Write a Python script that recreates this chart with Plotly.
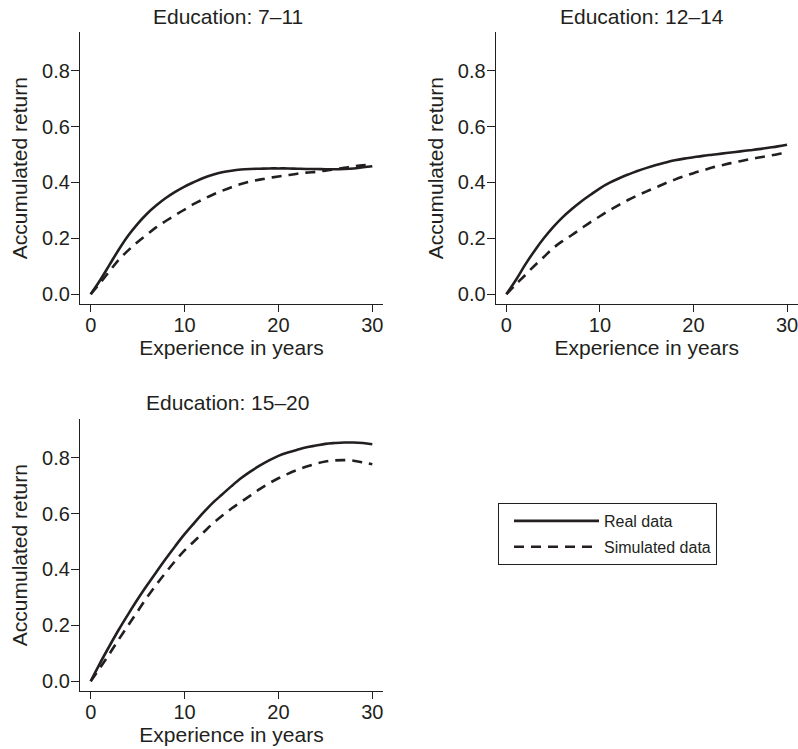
import plotly.graph_objects as go

# ---- data ----
experience = list(range(0, 31))

real_7_11 = [0.000, 0.050, 0.105, 0.160, 0.210, 0.252, 0.288, 0.318, 0.344, 0.366,
             0.385, 0.401, 0.416, 0.427, 0.436, 0.442, 0.446, 0.448, 0.449, 0.450,
             0.450, 0.450, 0.449, 0.448, 0.448, 0.447, 0.447, 0.448, 0.450, 0.454, 0.458]
sim_7_11 = [0.000, 0.040, 0.082, 0.124, 0.157, 0.187, 0.214, 0.240, 0.262, 0.283,
            0.303, 0.323, 0.340, 0.356, 0.370, 0.383, 0.394, 0.403, 0.410, 0.416,
            0.421, 0.426, 0.431, 0.435, 0.438, 0.442, 0.447, 0.452, 0.457, 0.461, 0.463]

real_12_14 = [0.000, 0.050, 0.105, 0.155, 0.200, 0.240, 0.275, 0.305, 0.332, 0.356,
              0.379, 0.398, 0.414, 0.428, 0.441, 0.452, 0.462, 0.471, 0.479, 0.485,
              0.490, 0.495, 0.499, 0.503, 0.507, 0.511, 0.515, 0.519, 0.524, 0.529, 0.535]
sim_12_14 = [0.000, 0.035, 0.068, 0.102, 0.133, 0.165, 0.190, 0.212, 0.235, 0.258,
             0.279, 0.300, 0.319, 0.337, 0.353, 0.368, 0.382, 0.397, 0.410, 0.422,
             0.433, 0.443, 0.453, 0.461, 0.469, 0.476, 0.483, 0.489, 0.495, 0.501, 0.506]

real_15_20 = [0.000, 0.065, 0.126, 0.185, 0.240, 0.293, 0.343, 0.391, 0.438, 0.483,
              0.526, 0.565, 0.603, 0.638, 0.668, 0.698, 0.726, 0.750, 0.771, 0.790,
              0.806, 0.818, 0.828, 0.837, 0.843, 0.849, 0.852, 0.854, 0.854, 0.852, 0.848]
sim_15_20 = [0.000, 0.048, 0.098, 0.150, 0.200, 0.250, 0.300, 0.346, 0.389, 0.430,
             0.468, 0.500, 0.532, 0.564, 0.592, 0.618, 0.641, 0.664, 0.687, 0.708,
             0.726, 0.742, 0.756, 0.768, 0.778, 0.786, 0.790, 0.791, 0.789, 0.783, 0.776]

panel_titles = ["Education: 7\u201311", "Education: 12\u201314", "Education: 15\u201320"]
series_names = ["Real data", "Simulated data"]
x_ticks = [0, 10, 20, 30]
y_ticks = [0.0, 0.2, 0.4, 0.6, 0.8]

# ---- styling ----
FONT = "Liberation Sans, Arial, Helvetica, sans-serif"
INK = "#231f20"
W, H = 798, 749

panels = [
    (real_7_11, sim_7_11, "x", "y"),
    (real_12_14, sim_12_14, "x2", "y2"),
    (real_15_20, sim_15_20, "x3", "y3"),
]

fig = go.Figure()
for i, (real, sim, xa, ya) in enumerate(panels):
    fig.add_trace(go.Scatter(
        x=experience, y=real, mode="lines", name=series_names[0],
        line=dict(color=INK, width=2.6, shape="spline"),
        xaxis=xa, yaxis=ya, legendgroup="real", showlegend=(i == 0)))
    fig.add_trace(go.Scatter(
        x=experience, y=sim, mode="lines", name=series_names[1],
        line=dict(color=INK, width=2.6, dash="10px,7px", shape="spline"),
        xaxis=xa, yaxis=ya, legendgroup="sim", showlegend=(i == 0)))

def px_x(p):
    return p / W

def px_y(p):
    return 1 - p / H

xdomains = [[px_x(80), px_x(383)], [px_x(495.7), px_x(797.7)], [px_x(80), px_x(383)]]
ydomains = [[px_y(304), px_y(32.3)], [px_y(304), px_y(32.3)], [px_y(691), px_y(419.3)]]

common_x = dict(range=[-1.14, 31.14], tickvals=x_ticks, ticks="outside", ticklen=7,
                tickwidth=1.2, tickcolor=INK, showline=True, linecolor=INK, linewidth=1.2,
                showgrid=False, zeroline=False, automargin=False,
                ticklabeloverflow="allow", ticklabelstandoff=-4,
                tickfont=dict(family=FONT, size=20, color=INK),
                title=dict(text="Experience in years", font=dict(family=FONT, size=21, color=INK),
                           standoff=3))
common_y = dict(range=[-0.035, 0.937], tickvals=y_ticks, tickformat=".1f", ticks="outside",
                ticklen=8, tickwidth=1.2, tickcolor=INK, showline=True, linecolor=INK,
                linewidth=1.2, showgrid=False, zeroline=False, automargin=False,
                ticklabeloverflow="allow", ticklabelstandoff=-3,
                tickfont=dict(family=FONT, size=20, color=INK),
                title=dict(text="Accumulated return", font=dict(family=FONT, size=21, color=INK),
                           standoff=8))

layout = dict(
    template="none",
    width=W, height=H, margin=dict(l=0, r=0, t=0, b=0, pad=0),
    paper_bgcolor="white", plot_bgcolor="white",
    font=dict(family=FONT, color=INK),
    showlegend=True,
    legend=dict(x=px_x(498), y=px_y(503), xanchor="left", yanchor="top",
                bordercolor=INK, borderwidth=1, bgcolor="white", tracegroupgap=2,
                font=dict(family=FONT, size=16, color=INK), itemwidth=85, indentation=10),
)
for k in range(3):
    sx = "" if k == 0 else str(k + 1)
    layout["xaxis" + sx] = dict(common_x, domain=xdomains[k], anchor="y" + sx)
    layout["yaxis" + sx] = dict(common_y, domain=ydomains[k], anchor="x" + sx)
fig.update_layout(**layout)

title_pos = [(px_x(227.5), px_y(16.7)), (px_x(641.7), px_y(16.7)), (px_x(227.5), px_y(402))]
for t, (tx, ty) in zip(panel_titles, title_pos):
    fig.add_annotation(text=t, x=tx, y=ty, xref="paper", yref="paper", showarrow=False,
                       xanchor="center", yanchor="middle",
                       font=dict(family=FONT, size=21, color=INK))

fig.write_html("out.html", config={"displayModeBar": False},
               post_script="document.body.style.margin='0px';document.body.style.overflow='hidden';")
